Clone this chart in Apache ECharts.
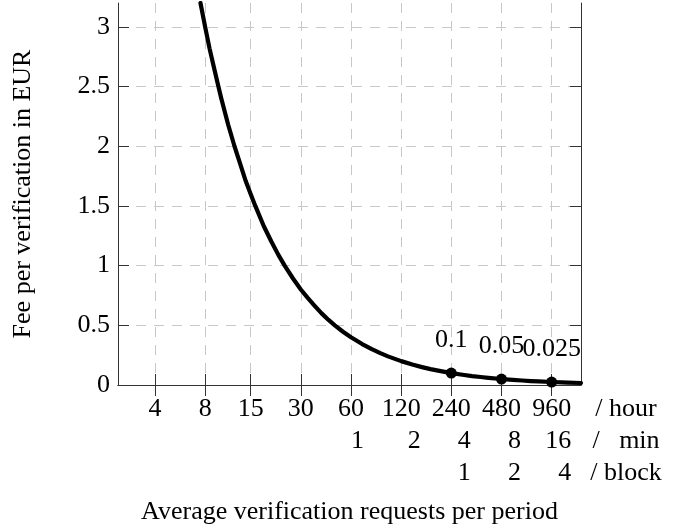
<!DOCTYPE html>
<html>
<head>
<meta charset="utf-8">
<script src="https://cdn.jsdelivr.net/npm/echarts@6/dist/echarts.min.js"></script>
<style>html,body{margin:0;padding:0;background:#fff;}#c{width:684px;height:529px;}</style>
</head>
<body>
<div id="c"></div>
<script>
// ---- data ----
const xTickHour = [4, 8, 15, 30, 60, 120, 240, 480, 960];
const xTickMin = ['', '', '', '', '1', '2', '4', '8', '16'];
const xTickBlock = ['', '', '', '', '', '', '1', '2', '4'];
const yTicks = [0, 0.5, 1, 1.5, 2, 2.5, 3];
const unitLabels = ['/ hour', '/   min', '/ block'];
const xTitle = 'Average verification requests per period';
const yTitle = 'Fee per verification in EUR';

const curveX = [7.5, 8, 8.5, 9, 9.5, 10, 11, 12, 13, 14, 15, 16, 18, 20, 22, 24, 27, 30, 33, 36, 40, 44, 48, 54, 60, 70, 80, 90, 100, 120, 140, 160, 180, 200, 240, 280, 320, 360, 400, 480, 560, 640, 720, 800, 960, 1100, 1200, 1440];
const curveFee = [3.2, 3.0, 2.82, 2.67, 2.53, 2.4, 2.18, 2.0, 1.85, 1.71, 1.6, 1.5, 1.33, 1.2, 1.09, 1.0, 0.89, 0.8, 0.73, 0.67, 0.6, 0.545, 0.5, 0.444, 0.4, 0.343, 0.3, 0.267, 0.24, 0.2, 0.171, 0.15, 0.133, 0.12, 0.1, 0.086, 0.075, 0.067, 0.06, 0.05, 0.043, 0.0375, 0.033, 0.03, 0.025, 0.022, 0.02, 0.0167];

const dotX = [240, 480, 960];
const dotFee = [0.1, 0.05, 0.025];
const dotLabels = ['0.1', '0.05', '0.025'];

// ---- chart ----
const FONT = "'Liberation Serif', 'Times New Roman', serif";
const FS = 26;
const AXIS_COLOR = '#333';
const GRID_COLOR = '#c8c8c8';

function findTick(val) {
  for (let i = 0; i < xTickHour.length; i++) {
    const v = xTickHour[i];
    if (Math.abs(v - val) / v < 1e-3 || Math.abs(Math.log2(v) - val) < 1e-3) return i;
  }
  return -1;
}

const chart = echarts.init(document.getElementById('c'), null, {renderer: 'canvas'});
const xCommon = {
  type: 'log', logBase: 2, min: 2.4, max: 1440,
  axisLine: {show: true, lineStyle: {color: AXIS_COLOR, width: 1}},
  axisTick: {show: true, inside: true, length: 11, customValues: xTickHour, lineStyle: {color: AXIS_COLOR, width: 1}},
  minorTick: {show: false}, minorSplitLine: {show: false}
};
const option = {
  animation: false,
  backgroundColor: '#fff',
  textStyle: {fontFamily: FONT},
  title: [{
    text: unitLabels.join('\n'),
    left: 626, top: 393, textAlign: 'center', padding: 0,
    textStyle: {fontSize: FS, lineHeight: 32, fontWeight: 'normal', fontFamily: FONT, color: '#000'}
  }],
  grid: {left: 118, right: 103, top: 3, bottom: 144, containLabel: false, outerBoundsMode: 'none'},
  xAxis: [
    Object.assign({}, xCommon, {
      position: 'bottom',
      name: xTitle, nameLocation: 'middle', nameGap: 114,
      nameTextStyle: {fontSize: FS, fontFamily: FONT, color: '#000', lineHeight: 26},
      axisLabel: {
        show: true, margin: 8, customValues: xTickHour,
        fontSize: FS, lineHeight: 32, color: '#000', fontFamily: FONT,
        formatter: function (val) {
          const i = findTick(val);
          if (i < 0) return '';
          const rows = [xTickHour[i] + ''];
          if (xTickMin[i]) rows.push(xTickMin[i]);
          if (xTickBlock[i]) rows.push(xTickBlock[i]);
          return rows.map(r => '{r|' + r + '}').join('\n');
        },
        rich: {r: {align: 'right', fontSize: FS, lineHeight: 32, fontFamily: FONT, color: '#000'}}
      },
      splitLine: {show: true, lineStyle: {color: GRID_COLOR, width: 1, type: [10, 8]}}
    }),
    Object.assign({}, xCommon, {
      position: 'top',
      axisLabel: {show: false},
      splitLine: {show: false}
    })
  ],
  yAxis: [
    {
      type: 'value', min: 0, max: 3.2, interval: 0.5, position: 'left',
      name: yTitle, nameLocation: 'middle', nameGap: 82,
      nameTextStyle: {fontSize: FS, fontFamily: FONT, color: '#000'},
      axisLine: {show: true, lineStyle: {color: AXIS_COLOR, width: 1}},
      axisTick: {show: true, inside: true, length: 11, customValues: yTicks, lineStyle: {color: AXIS_COLOR}},
      axisLabel: {show: true, margin: 8, customValues: yTicks, fontSize: FS, color: '#000', fontFamily: FONT},
      splitLine: {show: true, lineStyle: {color: GRID_COLOR, width: 1, type: [10, 8]}}
    },
    {
      type: 'value', min: 0, max: 3.2, interval: 0.5, position: 'right',
      axisLine: {show: true, lineStyle: {color: AXIS_COLOR, width: 1}},
      axisTick: {show: true, inside: true, length: 11, customValues: yTicks, lineStyle: {color: AXIS_COLOR}},
      axisLabel: {show: false},
      splitLine: {show: false}
    }
  ],
  series: [
    {
      type: 'line', xAxisIndex: 0, yAxisIndex: 0,
      data: curveX.map((x, i) => [x, curveFee[i]]),
      showSymbol: false, smooth: false, clip: true,
      lineStyle: {color: '#000', width: 4.2, join: 'round', cap: 'round'},
      z: 3
    },
    {
      type: 'scatter', xAxisIndex: 0, yAxisIndex: 0,
      data: dotX.map((x, i) => [x, dotFee[i]]),
      symbol: 'circle', symbolSize: 11,
      itemStyle: {color: '#000', opacity: 1},
      label: {
        show: true, position: 'top', distance: 14,
        formatter: p => dotLabels[p.dataIndex],
        fontSize: FS, color: '#000', fontFamily: FONT, opacity: 1
      },
      emphasis: {disabled: true},
      z: 4
    }
  ]
};
chart.setOption(option);
</script>
</body>
</html>
